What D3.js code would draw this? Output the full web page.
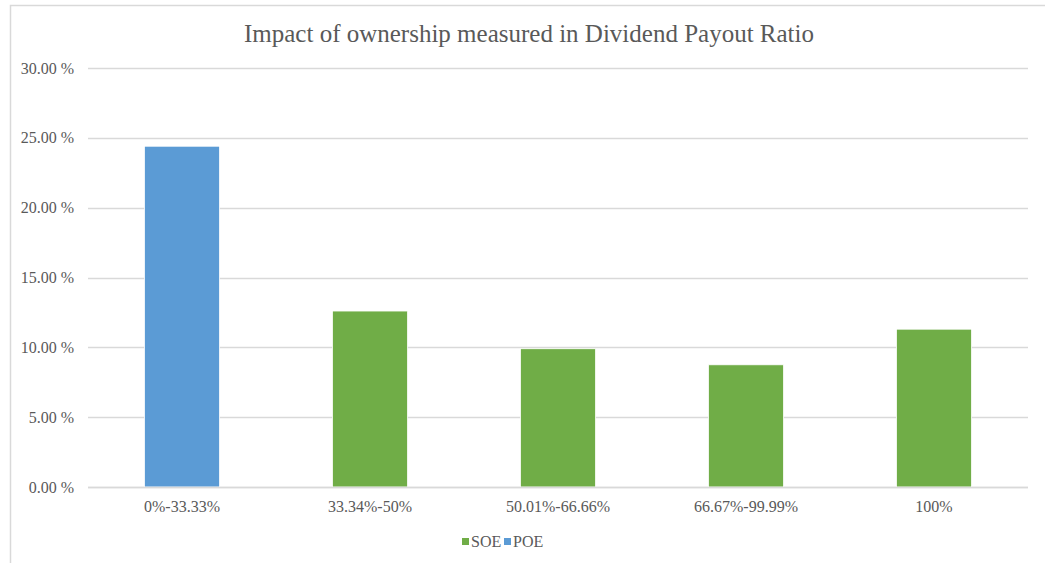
<!DOCTYPE html>
<html>
<head>
<meta charset="utf-8">
<style>
  body { margin: 0; background: #fff; }
</style>
</head>
<body>
<svg id="chart" width="1045" height="563"></svg>
<script src="https://cdn.jsdelivr.net/npm/d3@7"></script>
<script>
  // data
  var categories = ["0%-33.33%", "33.34%-50%", "50.01%-66.66%", "66.67%-99.99%", "100%"];
  var values = [24.4, 12.6, 9.9, 8.75, 11.3];
  var owners = ["POE", "SOE", "SOE", "SOE", "SOE"];
  var yTicks = [0, 5, 10, 15, 20, 25, 30];
  var legendItems = ["SOE", "POE"];

  var colors = { SOE: "#70AD47", POE: "#5B9BD5" };
  var font = "Liberation Serif, Times New Roman, serif";
  var textColor = "#595959";

  var svg = d3.select("#chart");

  // chart frame
  svg.append("rect")
      .attr("x", 10.5).attr("y", 5.5)
      .attr("width", 1060).attr("height", 580)
      .attr("fill", "none")
      .attr("stroke", "#d9d9d9")
      .attr("stroke-width", 1.5);

  var margin = { left: 88, right: 17, top: 68, bottom: 76 };
  var width = 1045 - margin.left - margin.right;
  var height = 563 - margin.top - margin.bottom;

  var g = svg.append("g").attr("transform", "translate(" + margin.left + "," + margin.top + ")");

  var x = d3.scaleBand().domain(categories).range([0, width]);
  var y = d3.scaleLinear().domain([0, 30]).range([height, 0]);

  // gridlines
  g.selectAll(".grid")
      .data(yTicks)
    .enter().append("line")
      .attr("x1", 0).attr("x2", width)
      .attr("y1", function(d) { return Math.round(y(d)) + 0.5; })
      .attr("y2", function(d) { return Math.round(y(d)) + 0.5; })
      .attr("stroke", "#d9d9d9")
      .attr("stroke-width", 1.3);

  // y labels
  g.selectAll(".ylab")
      .data(yTicks)
    .enter().append("text")
      .attr("x", -14)
      .attr("y", function(d) { return y(d); })
      .attr("dy", "0.35em")
      .attr("text-anchor", "end")
      .style("font-family", font)
      .attr("font-size", 16)
      .attr("fill", textColor)
      .text(function(d) { return d3.format(".2f")(d) + " %"; });

  // bars
  var barW = x.bandwidth() * 0.4;
  g.selectAll(".bar")
      .data(values)
    .enter().append("rect")
      .attr("x", function(d, i) { return x(categories[i]) + (x.bandwidth() - barW) / 2; })
      .attr("y", function(d) { return y(d); })
      .attr("width", barW)
      .attr("height", function(d) { return height - y(d); })
      .attr("fill", function(d, i) { return colors[owners[i]]; })
      .attr("stroke", "#fff")
      .attr("stroke-width", 0.8);

  // baseline
  g.append("line")
      .attr("x1", 0).attr("x2", width)
      .attr("y1", Math.round(y(0)) + 0.5).attr("y2", Math.round(y(0)) + 0.5)
      .attr("stroke", "#d9d9d9")
      .attr("stroke-width", 1.3);

  // x labels
  g.selectAll(".xlab")
      .data(categories)
    .enter().append("text")
      .attr("x", function(d) { return x(d) + x.bandwidth() / 2; })
      .attr("y", height + 25)
      .attr("text-anchor", "middle")
      .style("font-family", font)
      .attr("font-size", 16)
      .attr("fill", textColor)
      .text(function(d) { return d; });

  // title
  svg.append("text")
      .attr("x", 529)
      .attr("y", 42)
      .attr("text-anchor", "middle")
      .style("font-family", font)
      .attr("font-size", 25)
      .attr("fill", textColor)
      .text("Impact of ownership measured in Dividend Payout Ratio");

  // legend
  var legend = svg.append("g").attr("transform", "translate(462,537)");
  var offsets = [0, 42];
  legendItems.forEach(function(name, i) {
    var item = legend.append("g").attr("transform", "translate(" + offsets[i] + ",0)");
    item.append("rect")
        .attr("width", 7).attr("height", 7)
        .attr("y", 1)
        .attr("fill", colors[name]);
    item.append("text")
        .attr("x", 9)
        .attr("y", 4.5)
        .attr("dy", "0.35em")
        .style("font-family", font)
        .attr("font-size", 16)
        .attr("fill", textColor)
        .text(name);
  });
</script>
</body>
</html>
